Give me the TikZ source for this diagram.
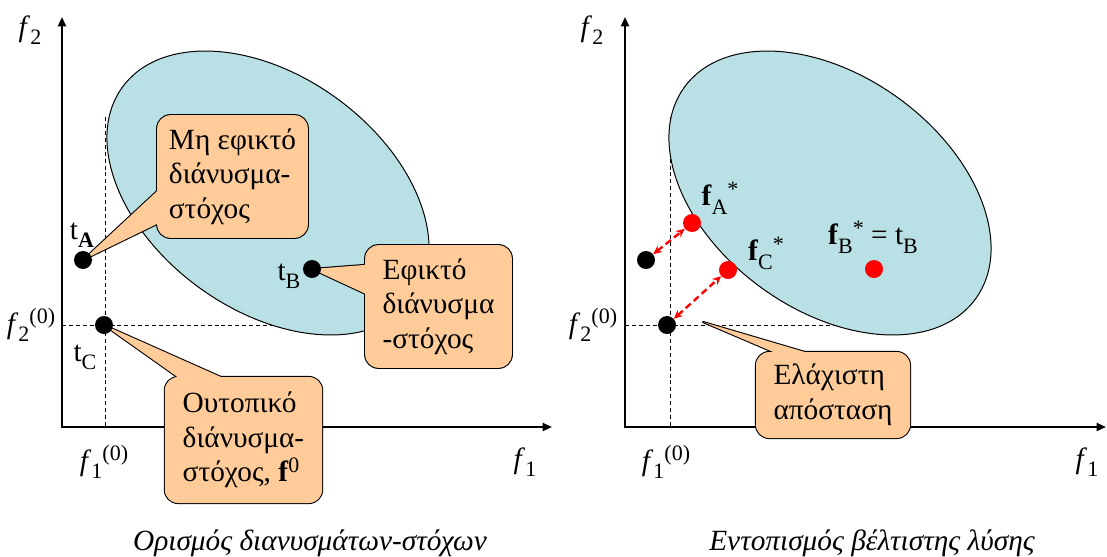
\documentclass[tikz,border=0pt]{standalone}
\usepackage{fontspec}
\setmainfont{Liberation Serif}
\usetikzlibrary{arrows.meta,positioning,calc}
\definecolor{feasible}{HTML}{B9E0E4}
\definecolor{peach}{HTML}{FFCC99}
\newcommand{\notefont}{\fontsize{22}{26}\selectfont}
\newcommand{\lo}[1]{\raisebox{-0.28em}{\fontsize{16.5}{17}\selectfont #1}}
\newcommand{\hi}[1]{\raisebox{0.33em}{\fontsize{16.5}{17}\selectfont #1}}
\pgfdeclarelayer{back}
\pgfsetlayers{back,main}

\begin{document}
\begin{tikzpicture}[
  x=0.75pt, y=-0.75pt,
  axis/.style={line width=1.5pt, {Triangle[length=7pt,width=6pt]}-{Triangle[length=7pt,width=6pt]}},
  guide/.style={line width=0.75pt, dash pattern=on 3pt off 2.2pt},
  region/.style={draw=black, line width=0.75pt, fill=feasible},
  note/.style={fill=peach, rounded corners=10pt, preaction={draw=black, line width=1.6pt}, align=left, font=\notefont, inner sep=4pt},
  tail/.style={draw=black, line width=1.6pt, line join=round},
  blob/.style={circle, fill=black, inner sep=0pt, minimum size=13.5pt},
  hit/.style={blob, fill=red},
  gap/.style={red, line width=1.8pt, dash pattern=on 5pt off 3pt, {Stealth[length=6.5pt,width=6pt]}-{Stealth[length=6.5pt,width=6pt]}},
  lbl/.style={font=\notefont, inner sep=0pt}
]
  \useasboundingbox (0,0) rectangle (1107,557);

  % target points
  \coordinate (pA) at (83,260);
  \coordinate (pB) at (312,269);
  \coordinate (pC) at (104,325);
  \coordinate (mt) at (703,322);

  % callouts
  \node[note, minimum width=113pt, minimum height=92pt] (m1) at (232.5,176.5) {Μη εφικτό\\διάνυσμα-\\στόχος};
  \node[note, minimum width=110pt, minimum height=92pt] (m2) at (438.5,306.5) {Εφικτό\\διάνυσμα\\-στόχος};
  \node[note, minimum width=118pt, minimum height=94.5pt] (m3) at (243.5,440) {Ουτοπικό\\διάνυσμα-\\στόχος, \textbf{f}\hi{0}};
  \node[note, minimum width=115.5pt, minimum height=64.5pt] (m4) at (833,395) {Ελάχιστη\\απόσταση};

  \coordinate (m1a) at ($(m1.north west)!0.59!(m1.south west)+(4,0)$);
  \coordinate (m1b) at ($(m1.north west)!0.87!(m1.south west)+(4,0)$);
  \coordinate (m2a) at ($(m2.north west)!0.16!(m2.south west)+(4,0)$);
  \coordinate (m2b) at ($(m2.north west)!0.41!(m2.south west)+(4,0)$);
  \coordinate (m3a) at ($(m3.north west)!0.115!(m3.north east)+(0,4)$);
  \coordinate (m3b) at ($(m3.north west)!0.41!(m3.north east)+(0,4)$);
  \coordinate (m4a) at ($(m4.north west)!0.17!(m4.north east)+(0,4)$);
  \coordinate (m4b) at ($(m4.north west)!0.40!(m4.north east)+(0,4)$);

  \begin{pgfonlayer}{back}
    % ideal point guides
    \draw[guide] (105,117) -- (105,427);
    \draw[guide] (62,325) -- (330,325);
    \draw[guide] (670,117) -- (670,427);
    \draw[guide] (625,325) -- (892,325);
    % feasible regions
    \draw[region, rotate around={-36:(268,193)}] (268,193) ellipse [x radius=180, y radius=117];
    \draw[region, rotate around={-36:(830,193)}] (830,193) ellipse [x radius=180, y radius=117];
    % axes
    \draw[axis] (62,17) -- (62,427) -- (552,427);
    \draw[axis] (625,17) -- (625,427) -- (1106,427);
    % tails
    \draw[tail] (m1a) -- (pA) -- (m1b);
    \draw[tail] (m2a) -- (pB) -- (m2b);
    \draw[tail] (m3a) -- (pC) -- (m3b);
    \draw[tail] (m4a) -- (mt) -- (m4b);
  \end{pgfonlayer}
  \fill[peach] (m1a) -- (pA) -- (m1b) -- cycle;
  \fill[peach] (m2a) -- (pB) -- (m2b) -- cycle;
  \fill[peach] (m3a) -- (pC) -- (m3b) -- cycle;
  \fill[peach] (m4a) -- (mt) -- (m4b) -- cycle;

  % points
  \node[blob] (tA) at (pA) {};
  \node[blob] (tB) at (pB) {};
  \node[blob] (tC) at (pC) {};
  \node[blob] (qA) at (646,260) {};
  \node[blob] (qC) at (667,325) {};
  \node[hit] (sA) at (692,223) {};
  \node[hit] (sC) at (728,270) {};
  \node[hit] (sB) at (874,269) {};

  \draw[gap] (qA) -- (sA);
  \draw[gap] (qC) -- (sC);

  % labels
  \node[lbl] (f2L) at (30,30) {\textit{f}\lo{2}};
  \node[lbl] (f1L) at (525,462) {\textit{f}\lo{1}};
  \node[lbl] (f20L) at (31,325) {\textit{f}\lo{2}\hi{(0)}};
  \node[lbl] (f10L) at (104,462) {\textit{f}\lo{1}\hi{(0)}};
  \node[lbl] (tAl) at (82,235) {t\lo{\textbf{A}}};
  \node[lbl] (tBl) at (289,276) {t\lo{B}};
  \node[lbl] (tCl) at (85,357) {t\lo{C}};
  \node[lbl] (f2R) at (592,30) {\textit{f}\lo{2}};
  \node[lbl] (f1R) at (1087,462) {\textit{f}\lo{1}};
  \node[lbl] (f20R) at (593,325) {\textit{f}\lo{2}\hi{(0)}};
  \node[lbl] (f10R) at (666,462) {\textit{f}\lo{1}\hi{(0)}};
  \node[lbl] (sAl) at (720,198) {\textbf{f}\lo{A}\hi{*}};
  \node[lbl] (sCl) at (766,253) {\textbf{f}\lo{C}\hi{*}};
  \node[lbl] (sBl) at (873,237) {\textbf{f}\lo{B}\hi{*} = t\lo{B}};

  % captions
  \node[lbl, font=\notefont\itshape] (capL) at (310,543) {Ορισμός διανυσμάτων-στόχων};
  \node[lbl, font=\notefont\itshape] (capR) at (872,543) {Εντοπισμός βέλτιστης λύσης};
\end{tikzpicture}
\end{document}
